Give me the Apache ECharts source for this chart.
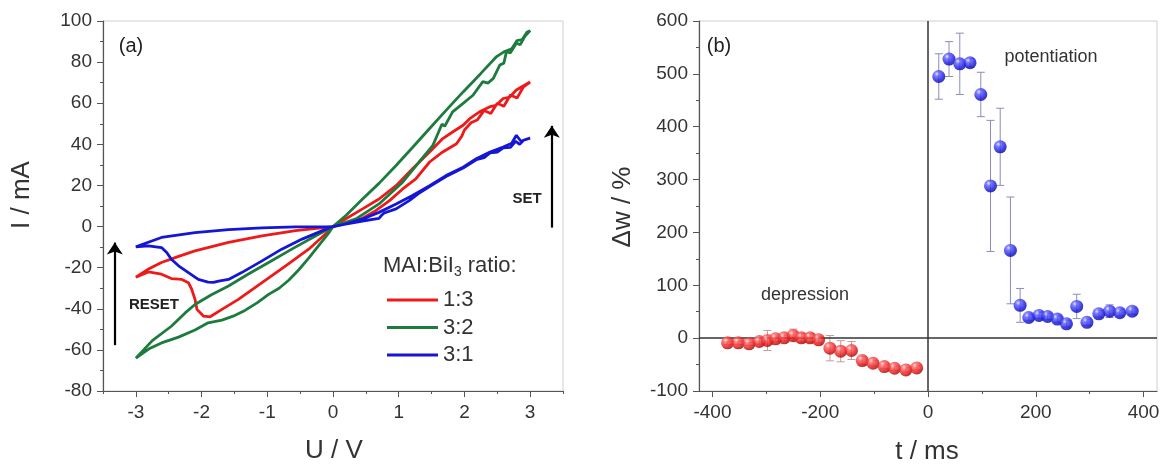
<!DOCTYPE html>
<html>
<head>
<meta charset="utf-8">
<script src="https://cdn.jsdelivr.net/npm/echarts@6/dist/echarts.min.js"></script>
<style>
html,body{margin:0;padding:0;background:#fff;}
#chart{width:1167px;height:465px;}
</style>
</head>
<body>
<div id="chart"></div>
<script>
// ---------- Panel (a): I-V loops, [U (V), I (mA)] ----------
const seriesNames = ['1:3', '3:2', '3:1'];
const loop13 = [
  [0,0],[0.19,1.7],[0.45,4.0],[0.65,7.7],[0.86,12.6],[1.06,18.3],[1.26,23.2],[1.47,31.4],[1.67,36.3],[1.88,40.3],
  [1.96,44],[2.0,47],[2.1,50.5],[2.2,52],[2.3,56.5],[2.4,55],[2.5,60],[2.6,58.5],[2.7,64],[2.8,62.5],[2.9,68],[3.0,70.3],
  [2.9,68.5],[2.79,66.4],[2.69,63],[2.59,62.3],[2.48,59],[2.39,58.3],[2.23,55.8],[2.08,52.5],[1.98,49.3],[1.82,46.0],
  [1.67,42.8],[1.47,36.3],[1.21,28.1],[0.96,19.9],[0.7,13.4],[0.45,8.6],[0.19,3.7],[0,0],
  [-0.06,-2.0],[-0.37,-11.0],[-0.72,-19.1],[-1.08,-27.3],[-1.44,-35.4],[-1.69,-40.3],[-1.87,-43.9],[-1.97,-43.6],
  [-2.07,-40.3],[-2.10,-35.4],[-2.15,-30.5],[-2.20,-27.3],[-2.30,-25.7],[-2.46,-25.3],[-2.61,-23.2],[-2.81,-22.1],[-3.0,-24.6],
  [-2.8,-20.5],[-2.61,-17.5],[-2.35,-14.5],[-2.10,-11.8],[-1.59,-7.7],[-1.08,-4.5],[-0.57,-2.0],[0,0]
];
const loop32 = [
  [0,0],[0.35,3.7],[0.70,11.0],[1.06,21.6],[1.31,31.4],[1.52,39.5],[1.62,47],[1.66,49.8],[1.70,48.8],[1.82,55.8],
  [1.98,59.9],[2.13,63.9],[2.28,70.5],[2.36,69.8],[2.44,72.1],[2.54,78.6],[2.6,79.5],[2.64,85.1],[2.7,84.5],[2.79,89.2],
  [2.85,88.5],[2.92,92.5],[3.0,95.3],
  [2.95,94.5],[2.88,91],[2.8,90.5],[2.72,86.5],[2.6,85],[2.49,82.7],[2.25,74.5],[1.98,65.5],[1.72,56.5],[1.47,47.7],
  [1.22,38.8],[0.96,29.7],[0.7,21],[0.45,13.4],[0.2,5.5],[0,0],
  [-0.06,-2.9],[-0.2,-8.5],[-0.37,-15.4],[-0.52,-21],[-0.67,-26],[-0.82,-30],[-0.98,-33],[-1.15,-37],[-1.34,-40.8],
  [-1.52,-43.6],[-1.69,-45.5],[-1.9,-46.8],[-2.10,-50.3],[-2.35,-53.8],[-2.61,-56.6],[-2.8,-59.5],[-3.0,-64],
  [-2.75,-55.5],[-2.46,-48.5],[-2.25,-42],[-2.10,-37.9],[-1.85,-33.2],[-1.59,-28.9],[-1.3,-23.3],[-0.98,-17.5],
  [-0.6,-10.5],[-0.26,-4.5],[0,0]
];
const loop31 = [
  [0,0],[0.19,1.2],[0.45,2.7],[0.70,4.0],[0.74,5.5],[0.78,6.6],[0.96,8.6],[1.16,12.6],[1.3,16],[1.47,19.5],[1.72,24.3],
  [1.98,28.5],[2.18,32.5],[2.3,33.5],[2.39,35.8],[2.5,36.2],[2.59,38.3],[2.7,38.5],[2.78,41.5],[2.84,40],[2.9,42],[3.0,43],
  [2.95,42.6],[2.86,41.5],[2.79,44.4],[2.72,40.5],[2.59,38.7],[2.39,36.3],[2.18,33.0],[1.98,28.9],[1.72,24.8],[1.47,19.9],
  [1.21,15.1],[0.96,11.0],[0.70,6.9],[0.45,3.7],[0.19,1.2],[0,0],
  [-0.16,-2.0],[-0.47,-6.1],[-0.78,-11.0],[-1.08,-16.7],[-1.39,-22.4],[-1.59,-25.7],[-1.74,-26.5],[-1.82,-27.2],
  [-1.90,-27.0],[-2.05,-25.7],[-2.20,-22.4],[-2.35,-19.1],[-2.46,-15.9],[-2.53,-12.6],[-2.61,-10.2],[-2.81,-9.4],[-3.0,-9.9],
  [-2.8,-7.5],[-2.61,-5.3],[-2.10,-3.0],[-1.59,-1.5],[-1.08,-0.6],[-0.57,-0.2],[0,0]
];
const uTicks = [-3,-2,-1,0,1,2,3];

// ---------- Panel (b): weight change vs. time ----------
const depT   = [-372,-352,-332,-313,-298,-283,-267,-250,-235,-219,-203,-182,-162,-142,-122,-102,-81,-62,-41,-21];
const depW   = [-8.9,-8.9,-10.8,-6.3,-4.4,-1.3,0.6,5.1,0.6,0.6,-3.2,-19,-24.7,-23.4,-42.4,-47.5,-53.8,-57,-60.2,-56.4];
const depErr = [3,3,3,5,19,5,5,12,8,8,6,24,20,17,8,5,4,4,4,4];
const potT   = [20,39,59,78,98,116,134,153,171,187,206,222,240,257,276,295,317,337,356,379];
const potW   = [495,528,519,521,461,288,362,166,62,39,43,41,36,27,60,30,46,51,48,51];
const potErr = [43,33,58,8,42,124,73,101,32,6,6,6,6,6,23,6,6,12,6,6];
const tMajor = [-400,-200,0,200,400];
const tMinor = [-300,-100,100,300];

const FONT = "'Liberation Sans', Arial, sans-serif";
const colRed = '#ee1a1a', colGreen = '#1e7b3e', colBlue = '#1515d8';

function zip3(a,b,c){ return a.map((v,i)=>[v,b[i],c[i]]); }
function ball(c1,c2,c3,c4){
  return {type:'radial', x:0.35, y:0.3, r:0.75, colorStops:[
    {offset:0,color:c1},{offset:0.25,color:c2},{offset:0.7,color:c3},{offset:1,color:c4}]};
}
function errRender(color){
  return function(params, api){
    const x=api.value(0), y=api.value(1), e=api.value(2);
    const top=api.coord([x,y+e]), bot=api.coord([x,y-e]);
    const hw=4, st={stroke:color, lineWidth:1};
    return {type:'group', children:[
      {type:'line', shape:{x1:top[0],y1:top[1],x2:bot[0],y2:bot[1]}, style:st},
      {type:'line', shape:{x1:top[0]-hw,y1:top[1],x2:top[0]+hw,y2:top[1]}, style:st},
      {type:'line', shape:{x1:bot[0]-hw,y1:bot[1],x2:bot[0]+hw,y2:bot[1]}, style:st}
    ]};
  };
}

const axisLine = {show:true, onZero:false, lineStyle:{color:'#555', width:1.2}};
const labelStyle = {color:'#333', fontSize:19, fontFamily:FONT};

const chart = echarts.init(document.getElementById('chart'), null, {renderer:'canvas'});
chart.setOption({
  animation:false,
  backgroundColor:'#fff',
  grid:[
    {left:103, right:604, top:21, bottom:74, show:true, borderColor:'#cfcfcf', borderWidth:1},
    {left:699, right:10, top:21, bottom:74, show:true, borderColor:'#cfcfcf', borderWidth:1}
  ],
  xAxis:[
    {gridIndex:0, type:'value', position:'bottom', min:-3.5, max:3.5, axisLine:axisLine,
     axisTick:{show:true, customValues:uTicks, length:6, lineStyle:{color:'#555'}},
     axisLabel:Object.assign({customValues:uTicks, margin:12}, labelStyle), splitLine:{show:false}},
    {gridIndex:0, type:'value', position:'bottom', min:-3.5, max:3.5, interval:0.5,
     axisLine:{show:false, onZero:false}, axisTick:{show:true, length:3, lineStyle:{color:'#555'}},
     axisLabel:{show:false}, splitLine:{show:false}},
    {gridIndex:1, type:'value', position:'bottom', min:-425, max:425, axisLine:axisLine,
     axisTick:{show:true, customValues:tMajor, length:6, lineStyle:{color:'#555'}},
     axisLabel:Object.assign({customValues:tMajor, margin:12}, labelStyle), splitLine:{show:false}},
    {gridIndex:1, type:'value', position:'bottom', min:-425, max:425,
     axisLine:{show:false, onZero:false}, axisTick:{show:true, customValues:tMinor, length:3, lineStyle:{color:'#555'}},
     axisLabel:{show:false}, splitLine:{show:false}}
  ],
  yAxis:[
    {gridIndex:0, type:'value', min:-80, max:100, interval:20, axisLine:axisLine,
     axisTick:{show:true, length:6, lineStyle:{color:'#555'}},
     minorTick:{show:true, splitNumber:2, length:3, lineStyle:{color:'#555'}},
     axisLabel:Object.assign({margin:11}, labelStyle), splitLine:{show:false}},
    {gridIndex:1, type:'value', min:-100, max:600, interval:100, axisLine:axisLine,
     axisTick:{show:true, length:6, lineStyle:{color:'#555'}},
     minorTick:{show:true, splitNumber:2, length:3, lineStyle:{color:'#555'}},
     axisLabel:Object.assign({margin:11}, labelStyle), splitLine:{show:false}}
  ],
  legend:{
    data:seriesNames, orient:'vertical', left:382, top:284, icon:'rect', itemWidth:51, itemHeight:3, itemGap:5.5,
    textStyle:{fontSize:22, fontFamily:FONT, color:'#333', lineHeight:22}, selectedMode:false
  },
  series:[
    {name:seriesNames[0], type:'line', xAxisIndex:0, yAxisIndex:0, data:loop13, symbol:'none', showSymbol:false,
     lineStyle:{color:colRed, width:2.8}, itemStyle:{color:colRed}, z:2,
     markLine:{silent:true, symbol:['none','arrow'], symbolSize:12, label:{show:false},
       lineStyle:{color:'#000', width:2.2, type:'solid'},
       data:[
         [{coord:[-3.32,-57.7]},{coord:[-3.32,-7.8]}],
         [{coord:[3.33,-0.5]},{coord:[3.33,49]}]
       ]}},
    {name:seriesNames[1], type:'line', xAxisIndex:0, yAxisIndex:0, data:loop32, symbol:'none', showSymbol:false,
     lineStyle:{color:colGreen, width:2.8}, itemStyle:{color:colGreen}, z:3},
    {name:seriesNames[2], type:'line', xAxisIndex:0, yAxisIndex:0, data:loop31, symbol:'none', showSymbol:false,
     lineStyle:{color:colBlue, width:2.8}, itemStyle:{color:colBlue}, z:4},
    {name:'zero', type:'line', xAxisIndex:2, yAxisIndex:1, data:[], z:1,
     markLine:{silent:true, symbol:'none', label:{show:false},
       lineStyle:{color:'#333', width:1.5, type:'solid'},
       data:[{yAxis:0},{xAxis:0}]}},
    {name:'depErr', type:'custom', xAxisIndex:2, yAxisIndex:1, data:zip3(depT,depW,depErr),
     renderItem:errRender('#c99a9a'), z:2, silent:true},
    {name:'potErr', type:'custom', xAxisIndex:2, yAxisIndex:1, data:zip3(potT,potW,potErr),
     renderItem:errRender('#8c8cbc'), z:2, silent:true},
    {name:'depression', type:'scatter', xAxisIndex:2, yAxisIndex:1, data:depT.map((t,i)=>[t,depW[i]]),
     symbolSize:13, itemStyle:{color:ball('#ffe0e0','#ff5a5a','#e41414','#8a0000')}, z:5},
    {name:'potentiation', type:'scatter', xAxisIndex:2, yAxisIndex:1, data:potT.map((t,i)=>[t,potW[i]]),
     symbolSize:13, itemStyle:{color:ball('#e0e0ff','#5a5aff','#1414e0','#00008a')}, z:5}
  ],
  graphic:[
    {type:'text', x:22, y:195, rotation:Math.PI/2, style:{text:'I / mA', fill:'#333', font:'26px '+FONT, textAlign:'center', textVerticalAlign:'middle'}},
    {type:'text', x:334, y:451, style:{text:'U / V', fill:'#333', font:'26px '+FONT, textAlign:'center', textVerticalAlign:'middle'}},
    {type:'text', x:623, y:207, rotation:Math.PI/2, style:{text:'Δw / %', fill:'#333', font:'26px '+FONT, textAlign:'center', textVerticalAlign:'middle'}},
    {type:'text', x:927, y:452, style:{text:'t / ms', fill:'#333', font:'26px '+FONT, textAlign:'center', textVerticalAlign:'middle'}},
    {type:'text', x:131, y:46, style:{text:'(a)', fill:'#222', font:'20px '+FONT, textAlign:'center', textVerticalAlign:'middle'}},
    {type:'text', x:719, y:46, style:{text:'(b)', fill:'#222', font:'20px '+FONT, textAlign:'center', textVerticalAlign:'middle'}},
    {type:'text', x:154, y:305, style:{text:'RESET', fill:'#222', font:'bold 15px '+FONT, textAlign:'center', textVerticalAlign:'middle'}},
    {type:'text', x:527, y:199, style:{text:'SET', fill:'#222', font:'bold 15px '+FONT, textAlign:'center', textVerticalAlign:'middle'}},
    {type:'text', x:805, y:295, style:{text:'depression', fill:'#333', font:'18px '+FONT, textAlign:'center', textVerticalAlign:'middle'}},
    {type:'text', x:1051, y:57, style:{text:'potentiation', fill:'#333', font:'18px '+FONT, textAlign:'center', textVerticalAlign:'middle'}},
    {type:'text', x:383, y:266, style:{text:'{a|MAI:BiI}{s|3}{a| ratio:}', fill:'#333', textAlign:'left', textVerticalAlign:'middle',
      rich:{a:{fontSize:22, fontFamily:FONT, fill:'#333', lineHeight:26, verticalAlign:'middle'},
            s:{fontSize:14, fontFamily:FONT, fill:'#333', lineHeight:26, verticalAlign:'middle', padding:[12,0,0,0]}}}}
  ]
});
</script>
</body>
</html>
